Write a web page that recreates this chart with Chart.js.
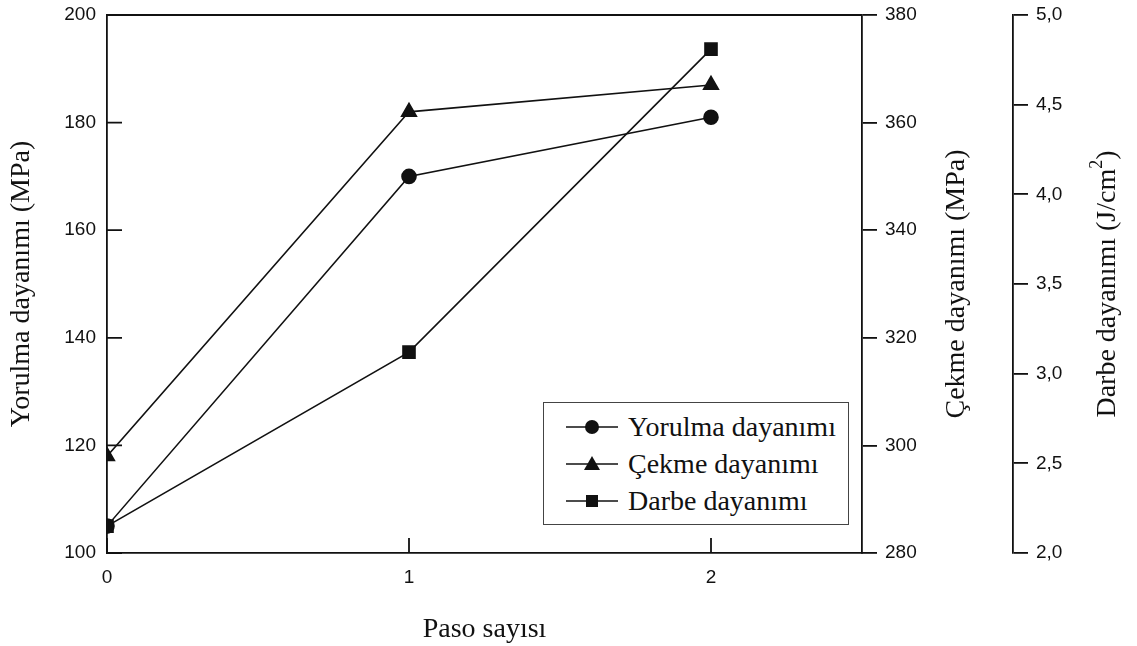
<!DOCTYPE html>
<html>
<head>
<meta charset="utf-8">
<script src="https://cdn.jsdelivr.net/npm/chart.js@4.4.1/dist/chart.umd.min.js"></script>
<style>
  html, body { margin: 0; padding: 0; background: #fff; }
  #wrap { position: relative; width: 1137px; height: 646px; }
  #legend {
    position: absolute; left: 543px; top: 402px; width: 304px; height: 121px;
    border: 1px solid #444; background: #fff;
    font-family: "Liberation Serif", "Times New Roman", serif; font-size: 28px; color: #111;
  }
  #legend .row { position: absolute; left: 22px; height: 32px; display: flex; align-items: center; }
  #legend svg { margin-right: 10px; }
</style>
</head>
<body>
<div id="wrap">
  <canvas id="chart" width="1137" height="646"></canvas>
  <div id="legend"></div>
</div>
<script>
// ── Données ──────────────────────────────────────────────────────────────────
const passes   = [0, 1, 2];
const yorulma  = [105, 170, 181];    // MPa, axe gauche
const cekme    = [298, 362, 367];    // MPa, axe droit
const darbe    = [2.15, 3.12, 4.81]; // J/cm2, troisième axe
const xTicks   = [0, 1, 2];

const seriesNames = ['Yorulma dayanımı', 'Çekme dayanımı', 'Darbe dayanımı'];

const tickFont  = { family: '"Liberation Sans", Arial, sans-serif', size: 19 };
const titleFont = '28px "Liberation Serif", "Times New Roman", serif';
const supFont   = '18px "Liberation Serif", "Times New Roman", serif';
const ink = '#111';

const toPoints = vals => passes.map((p, i) => ({ x: p, y: vals[i] }));

function lineSet(label, vals, axis, style, radius) {
  return {
    label,
    data: toPoints(vals),
    yAxisID: axis,
    borderColor: ink,
    backgroundColor: ink,
    borderWidth: 1.6,
    pointStyle: style,
    pointRadius: radius,
    pointHoverRadius: radius,
    pointBackgroundColor: ink,
    pointBorderColor: ink,
    tension: 0,
  };
}

// largeur fixe + pas de marge ajoutée pour les étiquettes extrêmes
const fixWidth = w => s => { s.width = w; s.paddingTop = 0; s.paddingBottom = 0; };

// ── Titres d'axes + graduations intérieures ─────────────────────────────────
const frameAndTitles = {
  id: 'frameAndTitles',
  afterDraw(chart) {
    const { ctx, chartArea: a, scales } = chart;
    ctx.save();
    ctx.strokeStyle = ink;
    ctx.lineWidth = 1.8;

    // cadre du haut
    ctx.beginPath();
    ctx.moveTo(a.left, a.top);
    ctx.lineTo(a.right, a.top);
    ctx.stroke();

    // graduations vers l'intérieur (axe gauche et axe x)
    ctx.beginPath();
    scales.y.ticks.forEach(t => {
      const py = scales.y.getPixelForValue(t.value);
      ctx.moveTo(a.left, py);
      ctx.lineTo(a.left + 15, py);
    });
    scales.x.ticks.forEach(t => {
      const px = scales.x.getPixelForValue(t.value);
      ctx.moveTo(px, a.bottom);
      ctx.lineTo(px, a.bottom - 15);
    });
    ctx.stroke();

    ctx.fillStyle = ink;
    ctx.font = titleFont;
    ctx.textAlign = 'center';
    ctx.textBaseline = 'middle';
    const midY = (a.top + a.bottom) / 2;

    const vertical = (text, x) => {
      ctx.save();
      ctx.translate(x, midY);
      ctx.rotate(-Math.PI / 2);
      ctx.fillText(text, 0, 0);
      ctx.restore();
    };

    vertical('Yorulma dayanımı (MPa)', 22);
    vertical('Çekme dayanımı (MPa)', scales.y2.left + 95);

    // Darbe avec exposant
    ctx.save();
    ctx.translate(scales.y3.left + 95, midY);
    ctx.rotate(-Math.PI / 2);
    const main = 'Darbe dayanımı (J/cm';
    ctx.font = titleFont;
    const wMain = ctx.measureText(main).width;
    ctx.font = supFont;
    const wSup = ctx.measureText('2').width;
    ctx.font = titleFont;
    const wClose = ctx.measureText(')').width;
    const x0 = -(wMain + wSup + wClose) / 2;
    ctx.textAlign = 'left';
    ctx.fillText(main, x0, 0);
    ctx.font = supFont;
    ctx.fillText('2', x0 + wMain, -11);
    ctx.font = titleFont;
    ctx.fillText(')', x0 + wMain + wSup, 0);
    ctx.restore();

    ctx.textAlign = 'center';
    ctx.fillText('Paso sayısı', (a.left + a.right) / 2, 630);
    ctx.restore();
  }
};

new Chart(document.getElementById('chart'), {
  type: 'line',
  data: {
    datasets: [
      lineSet(seriesNames[0], yorulma, 'y',  'circle',   7),
      lineSet(seriesNames[1], cekme,   'y2', 'triangle', 8.5),
      lineSet(seriesNames[2], darbe,   'y3', 'rect',     8.5),
    ],
  },
  options: {
    responsive: false,
    animation: false,
    layout: { padding: { top: 15, left: 0, right: 0, bottom: 0 } },
    plugins: { legend: { display: false }, tooltip: { enabled: false } },
    scales: {
      x: {
        type: 'linear', min: 0, max: 2.5,
        afterBuildTicks: s => { s.ticks = xTicks.map(v => ({ value: v })); },
        afterFit: s => { s.height = 93; s.paddingLeft = 0; s.paddingRight = 0; },
        grid: { display: false, drawTicks: false },
        border: { display: true, color: ink, width: 1.8 },
        ticks: { font: tickFont, color: ink, padding: 13, callback: v => String(v) },
      },
      y: {
        position: 'left', min: 100, max: 200,
        afterFit: fixWidth(107),
        grid: { display: false, drawTicks: false },
        border: { display: true, color: ink, width: 1.8 },
        ticks: { font: tickFont, color: ink, stepSize: 20, padding: 11 },
      },
      y2: {
        position: 'right', min: 280, max: 380,
        afterFit: fixWidth(151),
        grid: { drawOnChartArea: false, drawTicks: true, tickLength: 15, color: ink, lineWidth: 1.8 },
        border: { display: true, color: ink, width: 1.8 },
        ticks: { font: tickFont, color: ink, stepSize: 20, padding: 8 },
      },
      y3: {
        position: 'right', min: 2, max: 5,
        afterFit: fixWidth(124),
        grid: { drawOnChartArea: false, drawTicks: true, tickLength: 15, color: ink, lineWidth: 1.8 },
        border: { display: true, color: ink, width: 1.8 },
        ticks: {
          font: tickFont, color: ink, stepSize: 0.5, padding: 8,
          callback: v => v.toFixed(1).replace('.', ','),
        },
      },
    },
  },
  plugins: [frameAndTitles],
});

// ── Légende (ligne + marqueur) ───────────────────────────────────────────────
const markers = [
  '<circle cx="26" cy="12" r="7" fill="#111"/>',
  '<polygon points="26,4 34,18 18,18" fill="#111"/>',
  '<rect x="20" y="6" width="12" height="12" fill="#111"/>',
];
const legend = document.getElementById('legend');
seriesNames.forEach((name, i) => {
  const row = document.createElement('div');
  row.className = 'row';
  row.style.top = (8 + i * 37) + 'px';
  row.innerHTML = `<svg width="52" height="24"><line x1="0" y1="12" x2="52" y2="12" stroke="#111" stroke-width="1.6"/>${markers[i]}</svg><span>${name}</span>`;
  legend.appendChild(row);
});
</script>
</body>
</html>
